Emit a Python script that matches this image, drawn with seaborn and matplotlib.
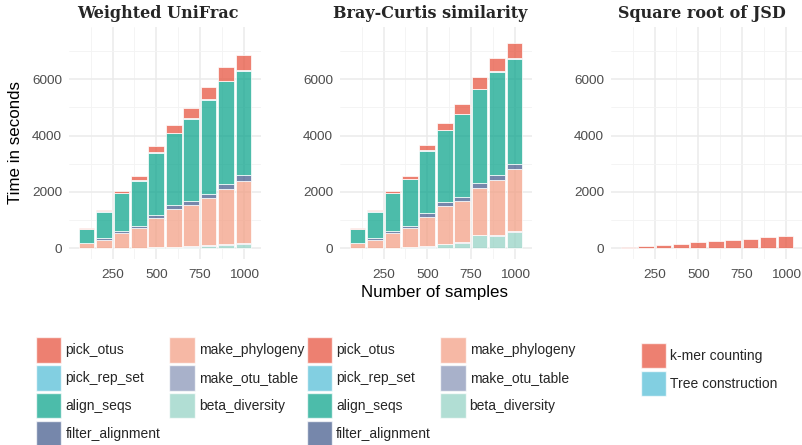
import numpy as np
import pandas as pd
import matplotlib
matplotlib.use("Agg")
import matplotlib.pyplot as plt
import seaborn as sns
from matplotlib.patches import Patch

# ---------------- data ----------------
samples = [100, 200, 300, 400, 500, 600, 700, 800, 900, 1000]

steps = ["pick_otus", "pick_rep_set", "align_seqs", "filter_alignment",
         "make_phylogeny", "make_otu_table", "beta_diversity"]

# Weighted UniFrac (seconds per step)
wu_pick_otus        = [18, 56, 80, 145, 226, 274, 354, 427, 482, 541]
wu_pick_rep_set     = [3, 5, 6, 8, 10, 12, 14, 16, 18, 20]
wu_align_seqs       = [503, 950, 1343, 1608, 2214, 2560, 2928, 3332, 3653, 3714]
wu_filter_alignment = [8, 56, 78, 86, 110, 139, 150, 158, 193, 200]
wu_make_phylogeny   = [176, 291, 511, 685, 1027, 1328, 1451, 1671, 1951, 2203]
wu_make_otu_table   = [3, 5, 8, 10, 12, 15, 18, 20, 22, 25]
wu_beta_diversity   = [3, 5, 10, 15, 30, 40, 60, 90, 120, 165]

# Bray-Curtis similarity (seconds per step)
bc_pick_otus        = [32, 56, 90, 124, 205, 263, 322, 401, 472, 541]
bc_pick_rep_set     = [3, 5, 6, 8, 10, 12, 14, 16, 18, 20]
bc_align_seqs       = [489, 939, 1332, 1643, 2214, 2560, 2950, 3347, 3653, 3714]
bc_filter_alignment = [8, 67, 74, 72, 131, 139, 139, 158, 192, 190]
bc_make_phylogeny   = [176, 286, 516, 695, 1047, 1332, 1464, 1665, 1954, 2203]
bc_make_otu_table   = [3, 5, 8, 10, 12, 15, 18, 20, 22, 25]
bc_beta_diversity   = [3, 10, 20, 30, 60, 143, 200, 464, 450, 593]

# Square root of JSD
jsd_steps = ["k-mer counting", "Tree construction"]
jsd_kmer  = [43, 79, 126, 159, 208, 254, 299, 323, 383, 439]
jsd_tree  = [2, 3, 4, 5, 6, 7, 8, 9, 10, 11]

titles = ["Weighted UniFrac", "Bray-Curtis similarity", "Square root of JSD"]
npg = ["#E64B35", "#4DBBD5", "#00A087", "#3C5488", "#F39B7F", "#8491B4", "#91D1C2"]
ALPHA = 0.7


def long_df(names, series):
    rows = []
    for name, vals in zip(names, series):
        for s, v in zip(samples, vals):
            rows.append({"samples": s, "time": v, "step": name})
    return pd.DataFrame(rows)


df_wu = long_df(steps, [wu_pick_otus, wu_pick_rep_set, wu_align_seqs, wu_filter_alignment,
                        wu_make_phylogeny, wu_make_otu_table, wu_beta_diversity])
df_bc = long_df(steps, [bc_pick_otus, bc_pick_rep_set, bc_align_seqs, bc_filter_alignment,
                        bc_make_phylogeny, bc_make_otu_table, bc_beta_diversity])
df_jsd = long_df(jsd_steps, [jsd_kmer, jsd_tree])

# ---------------- style ----------------
sns.set_theme(style="white")
plt.rcParams["font.family"] = ["Liberation Sans", "DejaVu Sans"]

W, H = 803, 445
fig = plt.figure(figsize=(W / 100, H / 100), dpi=100)
fig.patch.set_facecolor("white")


def rect(x0, x1, y0, y1):
    return [x0 / W, 1 - y1 / H, (x1 - x0) / W, (y1 - y0) / H]


axes = [fig.add_axes(rect(69, 261, 26.5, 258.9)),
        fig.add_axes(rect(340, 532, 26.5, 258.9)),
        fig.add_axes(rect(611, 803, 26.5, 258.9))]

panels = [(df_wu, steps, npg), (df_bc, steps, npg), (df_jsd, jsd_steps, npg[:2])]

for ax, (df, order, pal) in zip(axes, panels):
    ax.set_facecolor("white")
    ax.set_axisbelow(True)
    sns.histplot(data=df, x="samples", weights="time", hue="step", hue_order=order,
                 multiple="stack", binwidth=100, binrange=(50, 1050), shrink=0.9,
                 palette=pal, alpha=ALPHA, edgecolor="white", linewidth=0.5,
                 legend=False, ax=ax)
    ax.set_xlim(0, 1100)
    ax.set_ylim(-375, 7875)
    ax.set_xticks([250, 500, 750, 1000])
    ax.set_xticks([125, 375, 625, 875], minor=True)
    ax.set_yticks([0, 2000, 4000, 6000])
    ax.set_yticks([1000, 3000, 5000, 7000], minor=True)
    ax.grid(which="major", color="#EBEBEB", linewidth=1.1)
    ax.grid(which="minor", color="#F3F3F3", linewidth=0.6)
    for sp in ax.spines.values():
        sp.set_visible(False)
    ax.tick_params(axis="both", which="both", length=0, labelsize=9.7, labelcolor="#4D4D4D")
    ax.tick_params(axis="y", pad=5)
    ax.tick_params(axis="x", pad=7.5)
    ax.set_xlabel("")
    ax.set_ylabel("")

# titles
for cx, t in zip([158, 430, 702], titles):
    fig.text(cx / W, 1 - 14 / H, t, ha="center", va="center", fontsize=11.5,
             fontweight="bold", family=["DejaVu Serif"])

fig.text(16 / W, 1 - 143 / H, "Time in seconds", rotation=90, ha="center", va="center",
         fontsize=12.2, color="black")
fig.text(435 / W, 1 - 293 / H, "Number of samples", ha="center", va="center",
         fontsize=12.2, color="black")


def handles(names, pal):
    return [Patch(facecolor=c, edgecolor="white", alpha=ALPHA, label=n) for n, c in zip(names, pal)]


LFS = 10.0
px = LFS * 100 / 72.0          # font size in pixels
KEY = 25.5                     # key size in pixels
hh = (KEY / px - 0.245) / 0.65  # matplotlib: box height = fs*hh - 0.35*fs*(hh-0.7)
leg_kw = dict(loc="upper left", frameon=False, fontsize=LFS,
              handlelength=KEY / px, handleheight=hh,
              labelspacing=2.3 / px, handletextpad=4.0 / px,
              columnspacing=9.0 / px, borderpad=0, borderaxespad=0)

fig.legend(handles=handles(steps, npg), ncol=2, bbox_to_anchor=(36 / W, 1 - 337.3 / H), **leg_kw)
fig.legend(handles=handles(steps, npg), ncol=2, bbox_to_anchor=(306.7 / W, 1 - 337.3 / H), **leg_kw)
fig.legend(handles=handles(jsd_steps, npg[:2]), ncol=1, bbox_to_anchor=(640.7 / W, 1 - 342.7 / H), **leg_kw)

fig.savefig("out.png", dpi=100, facecolor="white")
